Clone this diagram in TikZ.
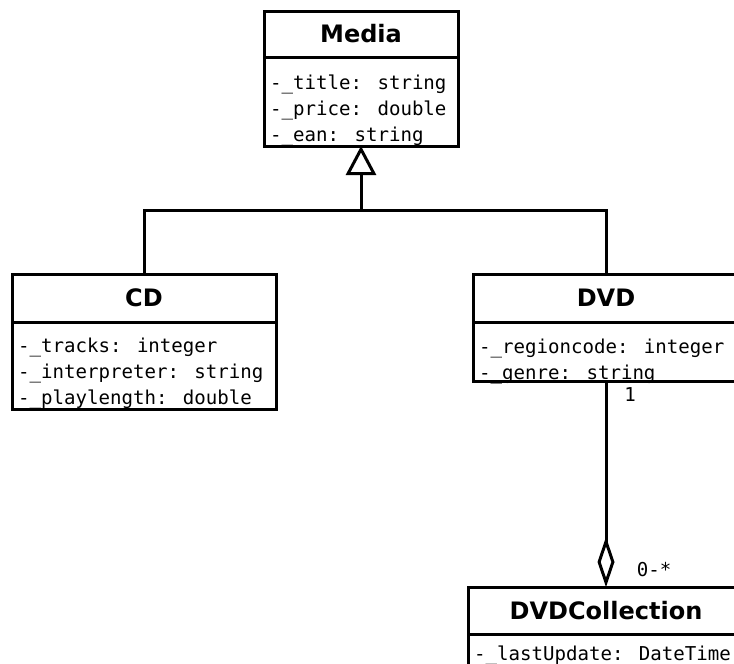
\documentclass[tikz,border=0pt]{standalone}
\usepackage{fontspec}
\setmainfont{DejaVu Sans}
\newfontfamily\attrfont{DejaVu Sans Mono}
\usetikzlibrary{arrows.meta,positioning}

\begin{document}
\begin{tikzpicture}[
    x=1pt, y=-1pt,
    classhead/.style={rectangle, draw=black, line width=3pt, outer sep=0pt, inner sep=0pt, font=\fontsize{24pt}{28pt}\selectfont\bfseries},
    classbody/.style={rectangle, draw=black, line width=3pt, outer sep=0pt, inner sep=0pt},
    attrs/.style={anchor=north west, inner sep=0pt, align=left, font=\attrfont\fontsize{19.1pt}{26pt}\selectfont},
    mult/.style={inner sep=0pt, font=\attrfont\fontsize{19.1pt}{26pt}\selectfont},
    inherit/.style={line width=3pt},
    aggr/.style={line width=3pt, -{Diamond[open, length=50pt, width=17pt, line width=3pt]}}
    ]
    \useasboundingbox (0,0) rectangle (734,664);
    \clip (0,0) rectangle (734,664);

    % Classes
    \node[classhead, minimum width=194pt, minimum height=46pt] (media) at (361,34) {Media};
    \node[classbody, minimum width=194pt, minimum height=89pt, below=0pt of media] (mediaattr) {};
    \node[attrs] (mediatxt) at ([shift={(6pt,-18pt)}]mediaattr.north west) {-\_title: string\\-\_price: double\\-\_ean: string};

    \node[classhead, minimum width=264pt, minimum height=48pt] (cd) at (144,298) {CD};
    \node[classbody, minimum width=264pt, minimum height=87pt, below=0pt of cd] (cdattr) {};
    \node[attrs] (cdtxt) at ([shift={(6pt,-16pt)}]cdattr.north west) {-\_tracks: integer\\-\_interpreter: string\\-\_playlength: double};

    \node[classhead, minimum width=266pt, minimum height=48pt] (dvd) at (606,298) {DVD};
    \node[classbody, minimum width=266pt, minimum height=59pt, below=0pt of dvd] (dvdattr) {};
    \node[attrs] (dvdtxt) at ([shift={(6pt,-17pt)}]dvdattr.north west) {-\_regioncode: integer\\-\_genre: string};

    \node[classhead, minimum width=276pt, minimum height=47pt] (coll) at (606,610.5) {DVDCollection};
    \node[classbody, minimum width=276pt, minimum height=60pt, below=0pt of coll] (collattr) {};
    \node[attrs] (colltxt) at ([shift={(6pt,-12pt)}]collattr.north west) {-\_lastUpdate: DateTime};

    % Generalisation
    \coordinate (joint) at (361,210);
    \draw[inherit] (cd.north) |- (joint) -| (dvd.north);
    \draw[inherit, -{Triangle[open, length=29pt, width=30pt, line width=3pt]}] (joint) -- (mediaattr.south);

    % Aggregation
    \draw[aggr] (dvdattr.south) -- (coll.north);
    \node[mult] (one) at (630,395) {1};
    \node[mult] (many) at (654,570) {0-*};

\end{tikzpicture}
\end{document}
